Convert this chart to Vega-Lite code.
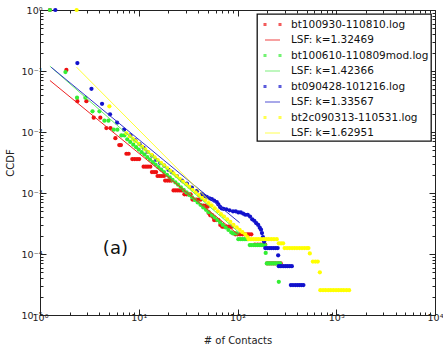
{
  "$schema": "https://vega.github.io/schema/vega-lite/v6.json",
  "width": 395,
  "height": 305,
  "autosize": "none",
  "padding": {"left": 40, "top": 10, "right": 8, "bottom": 31},
  "background": "white",
  "config": {
    "view": {"stroke": "#222", "strokeWidth": 1},
    "font": "DejaVu Sans",
    "axis": {"grid": false, "domainColor": "#222", "tickColor": "#222", "labelColor": "#222", "titleColor": "#222", "labelFont": "DejaVu Sans", "titleFont": "DejaVu Sans", "labelFontSize": 9.5, "titleFontSize": 10, "titleFontWeight": "normal", "labelOverlap": false, "labelFlush": false},
    "legend": {"orient": "top-right", "offset": 4, "fillColor": "white", "strokeColor": "#111", "strokeWidth": 1.3, "padding": 2, "symbolOffset": 5, "symbolSize": 225, "symbolStrokeWidth": 1.2, "labelFont": "DejaVu Sans", "labelFontSize": 10.5, "labelColor": "#111", "rowPadding": 1.5, "labelOffset": 10, "cornerRadius": 0}
  },
  "datasets": {
    "pts": [
      {"series": "bt100930-110810.log", "x": 1.26, "y": 1},
      {"series": "bt100930-110810.log", "x": 1.85, "y": 0.104},
      {"series": "bt100930-110810.log", "x": 2.39, "y": 0.032},
      {"series": "bt100930-110810.log", "x": 2.95, "y": 0.032},
      {"series": "bt100930-110810.log", "x": 3.5, "y": 0.0172},
      {"series": "bt100930-110810.log", "x": 4.08, "y": 0.0172},
      {"series": "bt100930-110810.log", "x": 4.7, "y": 0.0116},
      {"series": "bt100930-110810.log", "x": 5.17, "y": 0.0116},
      {"series": "bt100930-110810.log", "x": 5.8, "y": 0.0079},
      {"series": "bt100930-110810.log", "x": 6.35, "y": 0.0061},
      {"series": "bt100930-110810.log", "x": 6.6, "y": 0.0061},
      {"series": "bt100930-110810.log", "x": 7.5, "y": 0.0044},
      {"series": "bt100930-110810.log", "x": 7.9, "y": 0.0044},
      {"series": "bt100930-110810.log", "x": 8.6, "y": 0.0036},
      {"series": "bt100930-110810.log", "x": 9.1, "y": 0.0036},
      {"series": "bt100930-110810.log", "x": 9.6, "y": 0.0036},
      {"series": "bt100930-110810.log", "x": 10.1, "y": 0.0036},
      {"series": "bt100930-110810.log", "x": 11.2, "y": 0.0027},
      {"series": "bt100930-110810.log", "x": 11.8, "y": 0.0027},
      {"series": "bt100930-110810.log", "x": 12.4, "y": 0.0027},
      {"series": "bt100930-110810.log", "x": 13.1, "y": 0.0027},
      {"series": "bt100930-110810.log", "x": 13.6, "y": 0.0022},
      {"series": "bt100930-110810.log", "x": 14.3, "y": 0.0022},
      {"series": "bt100930-110810.log", "x": 15, "y": 0.0022},
      {"series": "bt100930-110810.log", "x": 15.5, "y": 0.0019},
      {"series": "bt100930-110810.log", "x": 16.3, "y": 0.0019},
      {"series": "bt100930-110810.log", "x": 17.1, "y": 0.0019},
      {"series": "bt100930-110810.log", "x": 18, "y": 0.0019},
      {"series": "bt100930-110810.log", "x": 18.5, "y": 0.0016},
      {"series": "bt100930-110810.log", "x": 19.5, "y": 0.0016},
      {"series": "bt100930-110810.log", "x": 20.5, "y": 0.0016},
      {"series": "bt100930-110810.log", "x": 21.5, "y": 0.0016},
      {"series": "bt100930-110810.log", "x": 22.5, "y": 0.0011},
      {"series": "bt100930-110810.log", "x": 23.6, "y": 0.0011},
      {"series": "bt100930-110810.log", "x": 24.8, "y": 0.0011},
      {"series": "bt100930-110810.log", "x": 26, "y": 0.0011},
      {"series": "bt100930-110810.log", "x": 27.2, "y": 0.0011},
      {"series": "bt100930-110810.log", "x": 28.3, "y": 0.0011},
      {"series": "bt100930-110810.log", "x": 29, "y": 0.00095},
      {"series": "bt100930-110810.log", "x": 30.5, "y": 0.00095},
      {"series": "bt100930-110810.log", "x": 32, "y": 0.00095},
      {"series": "bt100930-110810.log", "x": 33.5, "y": 0.00095},
      {"series": "bt100930-110810.log", "x": 35, "y": 0.00078},
      {"series": "bt100930-110810.log", "x": 36.8, "y": 0.00078},
      {"series": "bt100930-110810.log", "x": 38.6, "y": 0.00078},
      {"series": "bt100930-110810.log", "x": 40.5, "y": 0.00078},
      {"series": "bt100930-110810.log", "x": 42.5, "y": 0.00078},
      {"series": "bt100930-110810.log", "x": 45, "y": 0.00062},
      {"series": "bt100930-110810.log", "x": 47.5, "y": 0.00062},
      {"series": "bt100930-110810.log", "x": 50, "y": 0.0006},
      {"series": "bt100930-110810.log", "x": 51, "y": 0.00047},
      {"series": "bt100930-110810.log", "x": 53, "y": 0.00043},
      {"series": "bt100930-110810.log", "x": 55, "y": 0.00043},
      {"series": "bt100930-110810.log", "x": 57, "y": 0.0004},
      {"series": "bt100930-110810.log", "x": 58, "y": 0.00036},
      {"series": "bt100930-110810.log", "x": 61, "y": 0.00036},
      {"series": "bt100930-110810.log", "x": 64, "y": 0.00036},
      {"series": "bt100930-110810.log", "x": 67, "y": 0.0003},
      {"series": "bt100930-110810.log", "x": 70, "y": 0.00028},
      {"series": "bt100930-110810.log", "x": 73, "y": 0.00028},
      {"series": "bt100930-110810.log", "x": 77, "y": 0.00028},
      {"series": "bt100930-110810.log", "x": 81, "y": 0.00028},
      {"series": "bt100930-110810.log", "x": 85, "y": 0.00028},
      {"series": "bt100930-110810.log", "x": 88, "y": 0.00028},
      {"series": "bt100930-110810.log", "x": 95, "y": 0.00021},
      {"series": "bt100930-110810.log", "x": 100, "y": 0.00021},
      {"series": "bt100930-110810.log", "x": 106, "y": 0.00021},
      {"series": "bt100930-110810.log", "x": 112, "y": 0.00021},
      {"series": "bt100930-110810.log", "x": 118, "y": 0.00021},
      {"series": "bt100930-110810.log", "x": 125, "y": 0.00021},
      {"series": "bt100930-110810.log", "x": 131, "y": 0.00021},
      {"series": "bt100930-110810.log", "x": 138, "y": 0.00021},
      {"series": "bt100930-110810.log", "x": 150, "y": 0.000142},
      {"series": "bt100930-110810.log", "x": 160, "y": 0.000142},
      {"series": "bt100930-110810.log", "x": 170, "y": 0.000142},
      {"series": "bt100930-110810.log", "x": 180, "y": 0.000142},
      {"series": "bt100930-110810.log", "x": 191, "y": 0.000142},
      {"series": "bt100930-110810.log", "x": 200, "y": 0.00007},
      {"series": "bt100930-110810.log", "x": 210, "y": 0.00007},
      {"series": "bt100930-110810.log", "x": 221, "y": 0.00007},
      {"series": "bt100930-110810.log", "x": 232, "y": 0.00007},
      {"series": "bt100930-110810.log", "x": 244, "y": 0.00007},
      {"series": "bt100930-110810.log", "x": 258, "y": 0.00007},
      {"series": "bt100930-110810.log", "x": 274, "y": 0.00007},

      {"series": "bt100610-110809mod.log", "x": 1.26, "y": 1},
      {"series": "bt100610-110809mod.log", "x": 1.81, "y": 0.096},
      {"series": "bt100610-110809mod.log", "x": 2.37, "y": 0.0365},
      {"series": "bt100610-110809mod.log", "x": 2.88, "y": 0.0365},
      {"series": "bt100610-110809mod.log", "x": 3.4, "y": 0.0218},
      {"series": "bt100610-110809mod.log", "x": 4.0, "y": 0.0218},
      {"series": "bt100610-110809mod.log", "x": 4.49, "y": 0.0153},
      {"series": "bt100610-110809mod.log", "x": 4.93, "y": 0.0153},
      {"series": "bt100610-110809mod.log", "x": 5.58, "y": 0.0109},
      {"series": "bt100610-110809mod.log", "x": 6.08, "y": 0.0109},
      {"series": "bt100610-110809mod.log", "x": 6.67, "y": 0.0088},
      {"series": "bt100610-110809mod.log", "x": 7.16, "y": 0.0088},
      {"series": "bt100610-110809mod.log", "x": 7.65, "y": 0.0076},
      {"series": "bt100610-110809mod.log", "x": 8.2, "y": 0.00687},
      {"series": "bt100610-110809mod.log", "x": 8.8, "y": 0.0062},
      {"series": "bt100610-110809mod.log", "x": 9.4, "y": 0.00564},
      {"series": "bt100610-110809mod.log", "x": 10, "y": 0.00515},
      {"series": "bt100610-110809mod.log", "x": 10.7, "y": 0.00467},
      {"series": "bt100610-110809mod.log", "x": 11.4, "y": 0.00426},
      {"series": "bt100610-110809mod.log", "x": 12.2, "y": 0.00386},
      {"series": "bt100610-110809mod.log", "x": 13, "y": 0.00352},
      {"series": "bt100610-110809mod.log", "x": 13.9, "y": 0.0032},
      {"series": "bt100610-110809mod.log", "x": 14.8, "y": 0.00292},
      {"series": "bt100610-110809mod.log", "x": 15.8, "y": 0.00265},
      {"series": "bt100610-110809mod.log", "x": 16.9, "y": 0.00241},
      {"series": "bt100610-110809mod.log", "x": 18, "y": 0.0022},
      {"series": "bt100610-110809mod.log", "x": 19.3, "y": 0.00199},
      {"series": "bt100610-110809mod.log", "x": 20.6, "y": 0.00181},
      {"series": "bt100610-110809mod.log", "x": 22, "y": 0.00164},
      {"series": "bt100610-110809mod.log", "x": 23.5, "y": 0.00149},
      {"series": "bt100610-110809mod.log", "x": 25, "y": 0.00137},
      {"series": "bt100610-110809mod.log", "x": 26.7, "y": 0.00124},
      {"series": "bt100610-110809mod.log", "x": 28.5, "y": 0.00113},
      {"series": "bt100610-110809mod.log", "x": 30.5, "y": 0.00102},
      {"series": "bt100610-110809mod.log", "x": 32.5, "y": 0.00093},
      {"series": "bt100610-110809mod.log", "x": 34.7, "y": 0.00085},
      {"series": "bt100610-110809mod.log", "x": 37, "y": 0.00077},
      {"series": "bt100610-110809mod.log", "x": 39.5, "y": 0.0007},
      {"series": "bt100610-110809mod.log", "x": 42.2, "y": 0.00064},
      {"series": "bt100610-110809mod.log", "x": 45, "y": 0.00058},
      {"series": "bt100610-110809mod.log", "x": 48, "y": 0.00053},
      {"series": "bt100610-110809mod.log", "x": 51, "y": 0.000485},
      {"series": "bt100610-110809mod.log", "x": 55, "y": 0.000435},
      {"series": "bt100610-110809mod.log", "x": 58.5, "y": 0.000398},
      {"series": "bt100610-110809mod.log", "x": 62.5, "y": 0.000362},
      {"series": "bt100610-110809mod.log", "x": 66.7, "y": 0.000329},
      {"series": "bt100610-110809mod.log", "x": 71, "y": 0.0003},
      {"series": "bt100610-110809mod.log", "x": 76, "y": 0.000272},
      {"series": "bt100610-110809mod.log", "x": 81, "y": 0.000248},
      {"series": "bt100610-110809mod.log", "x": 86.5, "y": 0.000226},
      {"series": "bt100610-110809mod.log", "x": 90, "y": 0.000217},
      {"series": "bt100610-110809mod.log", "x": 94, "y": 0.000217},
      {"series": "bt100610-110809mod.log", "x": 98, "y": 0.000217},
      {"series": "bt100610-110809mod.log", "x": 102, "y": 0.000175},
      {"series": "bt100610-110809mod.log", "x": 107, "y": 0.000175},
      {"series": "bt100610-110809mod.log", "x": 112, "y": 0.000175},
      {"series": "bt100610-110809mod.log", "x": 117, "y": 0.000175},
      {"series": "bt100610-110809mod.log", "x": 122, "y": 0.000175},
      {"series": "bt100610-110809mod.log", "x": 127, "y": 0.000175},
      {"series": "bt100610-110809mod.log", "x": 133, "y": 0.00014},
      {"series": "bt100610-110809mod.log", "x": 138, "y": 0.00014},
      {"series": "bt100610-110809mod.log", "x": 145, "y": 0.00014},
      {"series": "bt100610-110809mod.log", "x": 152, "y": 0.00014},
      {"series": "bt100610-110809mod.log", "x": 159, "y": 0.00014},
      {"series": "bt100610-110809mod.log", "x": 166, "y": 0.00014},
      {"series": "bt100610-110809mod.log", "x": 174, "y": 0.00014},
      {"series": "bt100610-110809mod.log", "x": 182, "y": 0.00014},
      {"series": "bt100610-110809mod.log", "x": 190, "y": 0.00014},
      {"series": "bt100610-110809mod.log", "x": 193, "y": 0.000104},
      {"series": "bt100610-110809mod.log", "x": 198, "y": 0.00007},
      {"series": "bt100610-110809mod.log", "x": 206, "y": 0.00007},
      {"series": "bt100610-110809mod.log", "x": 214, "y": 0.00007},
      {"series": "bt100610-110809mod.log", "x": 223, "y": 0.00007},
      {"series": "bt100610-110809mod.log", "x": 232, "y": 0.00007},
      {"series": "bt100610-110809mod.log", "x": 241, "y": 0.00007},
      {"series": "bt100610-110809mod.log", "x": 251, "y": 0.00007},
      {"series": "bt100610-110809mod.log", "x": 261, "y": 0.00007},
      {"series": "bt100610-110809mod.log", "x": 270, "y": 0.00007},
      {"series": "bt100610-110809mod.log", "x": 262, "y": 0.000035},

      {"series": "bt090428-101216.log", "x": 1.43, "y": 1},
      {"series": "bt090428-101216.log", "x": 2.39, "y": 0.135},
      {"series": "bt090428-101216.log", "x": 3.32, "y": 0.051},
      {"series": "bt090428-101216.log", "x": 4.25, "y": 0.029},
      {"series": "bt090428-101216.log", "x": 5.12, "y": 0.0195},
      {"series": "bt090428-101216.log", "x": 6.03, "y": 0.0142},
      {"series": "bt090428-101216.log", "x": 7.1, "y": 0.0109},
      {"series": "bt090428-101216.log", "x": 8.24, "y": 0.0088},
      {"series": "bt090428-101216.log", "x": 9.24, "y": 0.0073},
      {"series": "bt090428-101216.log", "x": 10.2, "y": 0.0063},
      {"series": "bt090428-101216.log", "x": 11.2, "y": 0.0055},
      {"series": "bt090428-101216.log", "x": 12.3, "y": 0.0047},
      {"series": "bt090428-101216.log", "x": 13.6, "y": 0.0041},
      {"series": "bt090428-101216.log", "x": 15, "y": 0.0035},
      {"series": "bt090428-101216.log", "x": 16.5, "y": 0.0031},
      {"series": "bt090428-101216.log", "x": 18.1, "y": 0.0028},
      {"series": "bt090428-101216.log", "x": 20, "y": 0.0024},
      {"series": "bt090428-101216.log", "x": 21.6, "y": 0.0022},
      {"series": "bt090428-101216.log", "x": 24.3, "y": 0.0019},
      {"series": "bt090428-101216.log", "x": 27.4, "y": 0.0016},
      {"series": "bt090428-101216.log", "x": 30.7, "y": 0.00143},
      {"series": "bt090428-101216.log", "x": 34.5, "y": 0.00123},
      {"series": "bt090428-101216.log", "x": 38.7, "y": 0.00107},
      {"series": "bt090428-101216.log", "x": 43.5, "y": 0.00096},
      {"series": "bt090428-101216.log", "x": 46, "y": 0.0009},
      {"series": "bt090428-101216.log", "x": 48.8, "y": 0.00086},
      {"series": "bt090428-101216.log", "x": 52, "y": 0.00082},
      {"series": "bt090428-101216.log", "x": 55, "y": 0.00079},
      {"series": "bt090428-101216.log", "x": 58, "y": 0.00075},
      {"series": "bt090428-101216.log", "x": 61.7, "y": 0.00071},
      {"series": "bt090428-101216.log", "x": 64, "y": 0.00065},
      {"series": "bt090428-101216.log", "x": 66.6, "y": 0.00059},
      {"series": "bt090428-101216.log", "x": 69, "y": 0.00056},
      {"series": "bt090428-101216.log", "x": 72, "y": 0.00055},
      {"series": "bt090428-101216.log", "x": 77, "y": 0.00054},
      {"series": "bt090428-101216.log", "x": 83, "y": 0.00052},
      {"series": "bt090428-101216.log", "x": 90, "y": 0.0005},
      {"series": "bt090428-101216.log", "x": 96, "y": 0.0005},
      {"series": "bt090428-101216.log", "x": 102, "y": 0.00048},
      {"series": "bt090428-101216.log", "x": 108, "y": 0.00048},
      {"series": "bt090428-101216.log", "x": 114, "y": 0.00046},
      {"series": "bt090428-101216.log", "x": 120, "y": 0.00044},
      {"series": "bt090428-101216.log", "x": 127, "y": 0.00044},
      {"series": "bt090428-101216.log", "x": 134, "y": 0.00041},
      {"series": "bt090428-101216.log", "x": 141, "y": 0.00037},
      {"series": "bt090428-101216.log", "x": 148, "y": 0.00035},
      {"series": "bt090428-101216.log", "x": 155, "y": 0.00032},
      {"series": "bt090428-101216.log", "x": 162, "y": 0.0003},
      {"series": "bt090428-101216.log", "x": 168, "y": 0.00027},
      {"series": "bt090428-101216.log", "x": 173, "y": 0.00025},
      {"series": "bt090428-101216.log", "x": 177, "y": 0.00022},
      {"series": "bt090428-101216.log", "x": 181, "y": 0.00019},
      {"series": "bt090428-101216.log", "x": 186, "y": 0.00016},
      {"series": "bt090428-101216.log", "x": 191, "y": 0.000125},
      {"series": "bt090428-101216.log", "x": 200, "y": 0.000125},
      {"series": "bt090428-101216.log", "x": 210, "y": 0.000125},
      {"series": "bt090428-101216.log", "x": 220, "y": 0.000125},
      {"series": "bt090428-101216.log", "x": 231, "y": 0.000125},
      {"series": "bt090428-101216.log", "x": 243, "y": 0.000125},
      {"series": "bt090428-101216.log", "x": 255, "y": 0.000125},
      {"series": "bt090428-101216.log", "x": 258, "y": 0.000095},
      {"series": "bt090428-101216.log", "x": 262, "y": 0.000063},
      {"series": "bt090428-101216.log", "x": 275, "y": 0.000063},
      {"series": "bt090428-101216.log", "x": 290, "y": 0.000063},
      {"series": "bt090428-101216.log", "x": 305, "y": 0.000063},
      {"series": "bt090428-101216.log", "x": 320, "y": 0.000063},
      {"series": "bt090428-101216.log", "x": 337, "y": 0.000063},
      {"series": "bt090428-101216.log", "x": 355, "y": 0.000063},
      {"series": "bt090428-101216.log", "x": 347, "y": 0.000031},
      {"series": "bt090428-101216.log", "x": 365, "y": 0.000031},
      {"series": "bt090428-101216.log", "x": 385, "y": 0.000031},
      {"series": "bt090428-101216.log", "x": 405, "y": 0.000031},
      {"series": "bt090428-101216.log", "x": 425, "y": 0.000031},
      {"series": "bt090428-101216.log", "x": 445, "y": 0.000031},
      {"series": "bt090428-101216.log", "x": 465, "y": 0.000031},

      {"series": "bt2c090313-110531.log", "x": 2.35, "y": 1},
      {"series": "bt2c090313-110531.log", "x": 5.04, "y": 0.0264},
      {"series": "bt2c090313-110531.log", "x": 7.5, "y": 0.0095},
      {"series": "bt2c090313-110531.log", "x": 8.1, "y": 0.00854},
      {"series": "bt2c090313-110531.log", "x": 8.7, "y": 0.00774},
      {"series": "bt2c090313-110531.log", "x": 9.3, "y": 0.00706},
      {"series": "bt2c090313-110531.log", "x": 10, "y": 0.00639},
      {"series": "bt2c090313-110531.log", "x": 10.8, "y": 0.00574},
      {"series": "bt2c090313-110531.log", "x": 11.6, "y": 0.0052},
      {"series": "bt2c090313-110531.log", "x": 12.5, "y": 0.0047},
      {"series": "bt2c090313-110531.log", "x": 13.5, "y": 0.00422},
      {"series": "bt2c090313-110531.log", "x": 14.5, "y": 0.00383},
      {"series": "bt2c090313-110531.log", "x": 15.6, "y": 0.00346},
      {"series": "bt2c090313-110531.log", "x": 16.8, "y": 0.00312},
      {"series": "bt2c090313-110531.log", "x": 18, "y": 0.00284},
      {"series": "bt2c090313-110531.log", "x": 19.4, "y": 0.00256},
      {"series": "bt2c090313-110531.log", "x": 20.9, "y": 0.00231},
      {"series": "bt2c090313-110531.log", "x": 22.5, "y": 0.00209},
      {"series": "bt2c090313-110531.log", "x": 24.2, "y": 0.00189},
      {"series": "bt2c090313-110531.log", "x": 26, "y": 0.00171},
      {"series": "bt2c090313-110531.log", "x": 28, "y": 0.00154},
      {"series": "bt2c090313-110531.log", "x": 30.2, "y": 0.00139},
      {"series": "bt2c090313-110531.log", "x": 32.5, "y": 0.00126},
      {"series": "bt2c090313-110531.log", "x": 35, "y": 0.00113},
      {"series": "bt2c090313-110531.log", "x": 37.7, "y": 0.00102},
      {"series": "bt2c090313-110531.log", "x": 40.6, "y": 0.00092},
      {"series": "bt2c090313-110531.log", "x": 43.7, "y": 0.00083},
      {"series": "bt2c090313-110531.log", "x": 47, "y": 0.00076},
      {"series": "bt2c090313-110531.log", "x": 50.6, "y": 0.00068},
      {"series": "bt2c090313-110531.log", "x": 54.5, "y": 0.00062},
      {"series": "bt2c090313-110531.log", "x": 58.7, "y": 0.00056},
      {"series": "bt2c090313-110531.log", "x": 63, "y": 0.0005},
      {"series": "bt2c090313-110531.log", "x": 68, "y": 0.00045},
      {"series": "bt2c090313-110531.log", "x": 73, "y": 0.00041},
      {"series": "bt2c090313-110531.log", "x": 78.6, "y": 0.00037},
      {"series": "bt2c090313-110531.log", "x": 84.6, "y": 0.000335},
      {"series": "bt2c090313-110531.log", "x": 91, "y": 0.0003},
      {"series": "bt2c090313-110531.log", "x": 98, "y": 0.000274},
      {"series": "bt2c090313-110531.log", "x": 105, "y": 0.000249},
      {"series": "bt2c090313-110531.log", "x": 112, "y": 0.000228},
      {"series": "bt2c090313-110531.log", "x": 120, "y": 0.00021},
      {"series": "bt2c090313-110531.log", "x": 126, "y": 0.00019},
      {"series": "bt2c090313-110531.log", "x": 130, "y": 0.000175},
      {"series": "bt2c090313-110531.log", "x": 137, "y": 0.000175},
      {"series": "bt2c090313-110531.log", "x": 145, "y": 0.000175},
      {"series": "bt2c090313-110531.log", "x": 154, "y": 0.000175},
      {"series": "bt2c090313-110531.log", "x": 163, "y": 0.000175},
      {"series": "bt2c090313-110531.log", "x": 173, "y": 0.000175},
      {"series": "bt2c090313-110531.log", "x": 184, "y": 0.000175},
      {"series": "bt2c090313-110531.log", "x": 195, "y": 0.000175},
      {"series": "bt2c090313-110531.log", "x": 207, "y": 0.000175},
      {"series": "bt2c090313-110531.log", "x": 220, "y": 0.000175},
      {"series": "bt2c090313-110531.log", "x": 234, "y": 0.000175},
      {"series": "bt2c090313-110531.log", "x": 250, "y": 0.000175},
      {"series": "bt2c090313-110531.log", "x": 262, "y": 0.00015},
      {"series": "bt2c090313-110531.log", "x": 276, "y": 0.00015},
      {"series": "bt2c090313-110531.log", "x": 290, "y": 0.00015},
      {"series": "bt2c090313-110531.log", "x": 300, "y": 0.000125},
      {"series": "bt2c090313-110531.log", "x": 318, "y": 0.000125},
      {"series": "bt2c090313-110531.log", "x": 337, "y": 0.000125},
      {"series": "bt2c090313-110531.log", "x": 357, "y": 0.000125},
      {"series": "bt2c090313-110531.log", "x": 378, "y": 0.000125},
      {"series": "bt2c090313-110531.log", "x": 400, "y": 0.000125},
      {"series": "bt2c090313-110531.log", "x": 424, "y": 0.000125},
      {"series": "bt2c090313-110531.log", "x": 450, "y": 0.000125},
      {"series": "bt2c090313-110531.log", "x": 477, "y": 0.000125},
      {"series": "bt2c090313-110531.log", "x": 505, "y": 0.000125},
      {"series": "bt2c090313-110531.log", "x": 523, "y": 0.000125},
      {"series": "bt2c090313-110531.log", "x": 540, "y": 0.000102},
      {"series": "bt2c090313-110531.log", "x": 580, "y": 0.000075},
      {"series": "bt2c090313-110531.log", "x": 615, "y": 0.000075},
      {"series": "bt2c090313-110531.log", "x": 650, "y": 0.000075},
      {"series": "bt2c090313-110531.log", "x": 682, "y": 0.00005},
      {"series": "bt2c090313-110531.log", "x": 690, "y": 0.0000255},
      {"series": "bt2c090313-110531.log", "x": 735, "y": 0.0000255},
      {"series": "bt2c090313-110531.log", "x": 780, "y": 0.0000255},
      {"series": "bt2c090313-110531.log", "x": 830, "y": 0.0000255},
      {"series": "bt2c090313-110531.log", "x": 880, "y": 0.0000255},
      {"series": "bt2c090313-110531.log", "x": 935, "y": 0.0000255},
      {"series": "bt2c090313-110531.log", "x": 995, "y": 0.0000255},
      {"series": "bt2c090313-110531.log", "x": 1055, "y": 0.0000255},
      {"series": "bt2c090313-110531.log", "x": 1120, "y": 0.0000255},
      {"series": "bt2c090313-110531.log", "x": 1190, "y": 0.0000255},
      {"series": "bt2c090313-110531.log", "x": 1270, "y": 0.0000255},
      {"series": "bt2c090313-110531.log", "x": 1350, "y": 0.0000255}
    ],
    "fits": [
      {"series": "LSF: k=1.32469", "x": 1.26, "y": 0.0699},
      {"series": "LSF: k=1.32469", "x": 105, "y": 0.0002},
      {"series": "LSF: k=1.42366", "x": 1.26, "y": 0.12},
      {"series": "LSF: k=1.42366", "x": 105, "y": 0.000221},
      {"series": "LSF: k=1.33567", "x": 1.3, "y": 0.115},
      {"series": "LSF: k=1.33567", "x": 105, "y": 0.000326},
      {"series": "LSF: k=1.62951", "x": 2.34, "y": 0.116},
      {"series": "LSF: k=1.62951", "x": 105, "y": 0.000236}
    ],
    "names": [
      {"series": "bt100930-110810.log"},
      {"series": "LSF: k=1.32469"},
      {"series": "bt100610-110809mod.log"},
      {"series": "LSF: k=1.42366"},
      {"series": "bt090428-101216.log"},
      {"series": "LSF: k=1.33567"},
      {"series": "bt2c090313-110531.log"},
      {"series": "LSF: k=1.62951"}
    ],
    "notes": [
      {"label": "(a)", "x": 5.8, "y": 0.00012}
    ]
  },
  "layer": [
    {
      "data": {"name": "pts"},
      "mark": {"type": "point", "filled": true, "size": 18, "opacity": 1},
      "encoding": {
        "x": {"field": "x", "type": "quantitative", "scale": {"type": "log", "domain": [1, 10000], "nice": false},
          "axis": {"orient": "bottom", "title": "# of Contacts", "titlePadding": 11,
            "values": [1,2,3,4,5,6,7,8,9,10,20,30,40,50,60,70,80,90,100,200,300,400,500,600,700,800,900,1000,2000,3000,4000,5000,6000,7000,8000,9000,10000],
            "labelExpr": "abs(log(datum.value)/LN10 - round(log(datum.value)/LN10)) < 0.01 ? '10' + ['⁰','¹','²','³','⁴'][round(log(datum.value)/LN10)] : ''",
            "tickSize": {"condition": {"test": "abs(log(datum.value)/LN10 - round(log(datum.value)/LN10)) < 0.01", "value": -6}, "value": -3},
            "labelPadding": 3}},
        "y": {"field": "y", "type": "quantitative", "scale": {"type": "log", "domain": [0.00001, 1], "nice": false},
          "axis": {"orient": "left", "title": "CCDF", "titlePadding": 6,
            "values": [0.00001,0.00002,0.00003,0.00004,0.00005,0.00006,0.00007,0.00008,0.00009,0.0001,0.0002,0.0003,0.0004,0.0005,0.0006,0.0007,0.0008,0.0009,0.001,0.002,0.003,0.004,0.005,0.006,0.007,0.008,0.009,0.01,0.02,0.03,0.04,0.05,0.06,0.07,0.08,0.09,0.1,0.2,0.3,0.4,0.5,0.6,0.7,0.8,0.9,1],
            "labelExpr": "abs(log(datum.value)/LN10 - round(log(datum.value)/LN10)) < 0.01 ? ['10⁻⁵','10⁻⁴','10⁻³','10⁻²','10⁻¹','10⁰'][round(log(datum.value)/LN10)+5] : ''",
            "tickSize": {"condition": {"test": "abs(log(datum.value)/LN10 - round(log(datum.value)/LN10)) < 0.01", "value": -6}, "value": -3},
            "labelPadding": 4}},
        "color": {"field": "series", "type": "nominal", "legend": null,
          "scale": {"domain": ["LSF: k=1.32469","LSF: k=1.42366","LSF: k=1.33567","LSF: k=1.62951","bt100930-110810.log","bt100610-110809mod.log","bt090428-101216.log","bt2c090313-110531.log"],
            "range": ["#ee2222","#66ee66","#3333cc","#ffff33","#ee1111","#33ee33","#1111cc","#ffff00"]}}
      }
    },
    {
      "data": {"name": "fits"},
      "mark": {"type": "line", "strokeWidth": 1},
      "encoding": {
        "x": {"field": "x", "type": "quantitative", "axis": null},
        "y": {"field": "y", "type": "quantitative", "axis": null},
        "color": {"field": "series", "type": "nominal", "legend": null},
        "detail": {"field": "series"}
      }
    },
    {
      "data": {"name": "names"},
      "transform": [{"filter": "datum.series == 'none'"}],
      "mark": {"type": "point", "filled": true, "strokeWidth": 1.2},
      "encoding": {
        "fill": {"field": "series", "type": "nominal", "legend": {"title": null},
          "scale": {"domain": ["bt100930-110810.log","LSF: k=1.32469","bt100610-110809mod.log","LSF: k=1.42366","bt090428-101216.log","LSF: k=1.33567","bt2c090313-110531.log","LSF: k=1.62951"],
            "range": ["#ee1111","#ee2222","#33ee33","#66ee66","#1111cc","#3333cc","#ffff00","#ffff33"]}},
        "stroke": {"field": "series", "type": "nominal", "legend": {"title": null},
          "scale": {"domain": ["bt100930-110810.log","LSF: k=1.32469","bt100610-110809mod.log","LSF: k=1.42366","bt090428-101216.log","LSF: k=1.33567","bt2c090313-110531.log","LSF: k=1.62951"],
            "range": ["#ee1111","#ee2222","#33ee33","#66ee66","#1111cc","#3333cc","#ffff00","#ffff33"]}},
        "shape": {"field": "series", "type": "nominal", "legend": {"title": null},
          "scale": {"domain": ["bt100930-110810.log","LSF: k=1.32469","bt100610-110809mod.log","LSF: k=1.42366","bt090428-101216.log","LSF: k=1.33567","bt2c090313-110531.log","LSF: k=1.62951"],
            "range": ["M-1.12,-0.12L-0.88,-0.12L-0.88,0.12L-1.12,0.12ZM0.88,-0.12L1.12,-0.12L1.12,0.12L0.88,0.12Z","stroke","M-1.12,-0.12L-0.88,-0.12L-0.88,0.12L-1.12,0.12ZM0.88,-0.12L1.12,-0.12L1.12,0.12L0.88,0.12Z","stroke","M-1.12,-0.12L-0.88,-0.12L-0.88,0.12L-1.12,0.12ZM0.88,-0.12L1.12,-0.12L1.12,0.12L0.88,0.12Z","stroke","M-1.12,-0.12L-0.88,-0.12L-0.88,0.12L-1.12,0.12ZM0.88,-0.12L1.12,-0.12L1.12,0.12L0.88,0.12Z","stroke"]}}
      }
    },
    {
      "data": {"name": "notes"},
      "mark": {"type": "text", "fontSize": 18, "font": "DejaVu Sans", "color": "#111", "align": "center", "baseline": "middle"},
      "encoding": {
        "x": {"field": "x", "type": "quantitative",
          "axis": {"orient": "top", "title": null, "labels": false, "domain": false,
            "values": [1,2,3,4,5,6,7,8,9,10,20,30,40,50,60,70,80,90,100,200,300,400,500,600,700,800,900,1000,2000,3000,4000,5000,6000,7000,8000,9000,10000],
            "tickSize": {"condition": {"test": "abs(log(datum.value)/LN10 - round(log(datum.value)/LN10)) < 0.01", "value": -6}, "value": -3}}},
        "y": {"field": "y", "type": "quantitative",
          "axis": {"orient": "right", "title": null, "labels": false, "domain": false,
            "values": [0.00001,0.00002,0.00003,0.00004,0.00005,0.00006,0.00007,0.00008,0.00009,0.0001,0.0002,0.0003,0.0004,0.0005,0.0006,0.0007,0.0008,0.0009,0.001,0.002,0.003,0.004,0.005,0.006,0.007,0.008,0.009,0.01,0.02,0.03,0.04,0.05,0.06,0.07,0.08,0.09,0.1,0.2,0.3,0.4,0.5,0.6,0.7,0.8,0.9,1],
            "tickSize": {"condition": {"test": "abs(log(datum.value)/LN10 - round(log(datum.value)/LN10)) < 0.01", "value": -6}, "value": -3}}},
        "text": {"field": "label"}
      }
    }
  ],
  "resolve": {"axis": {"x": "independent", "y": "independent"}}
}
